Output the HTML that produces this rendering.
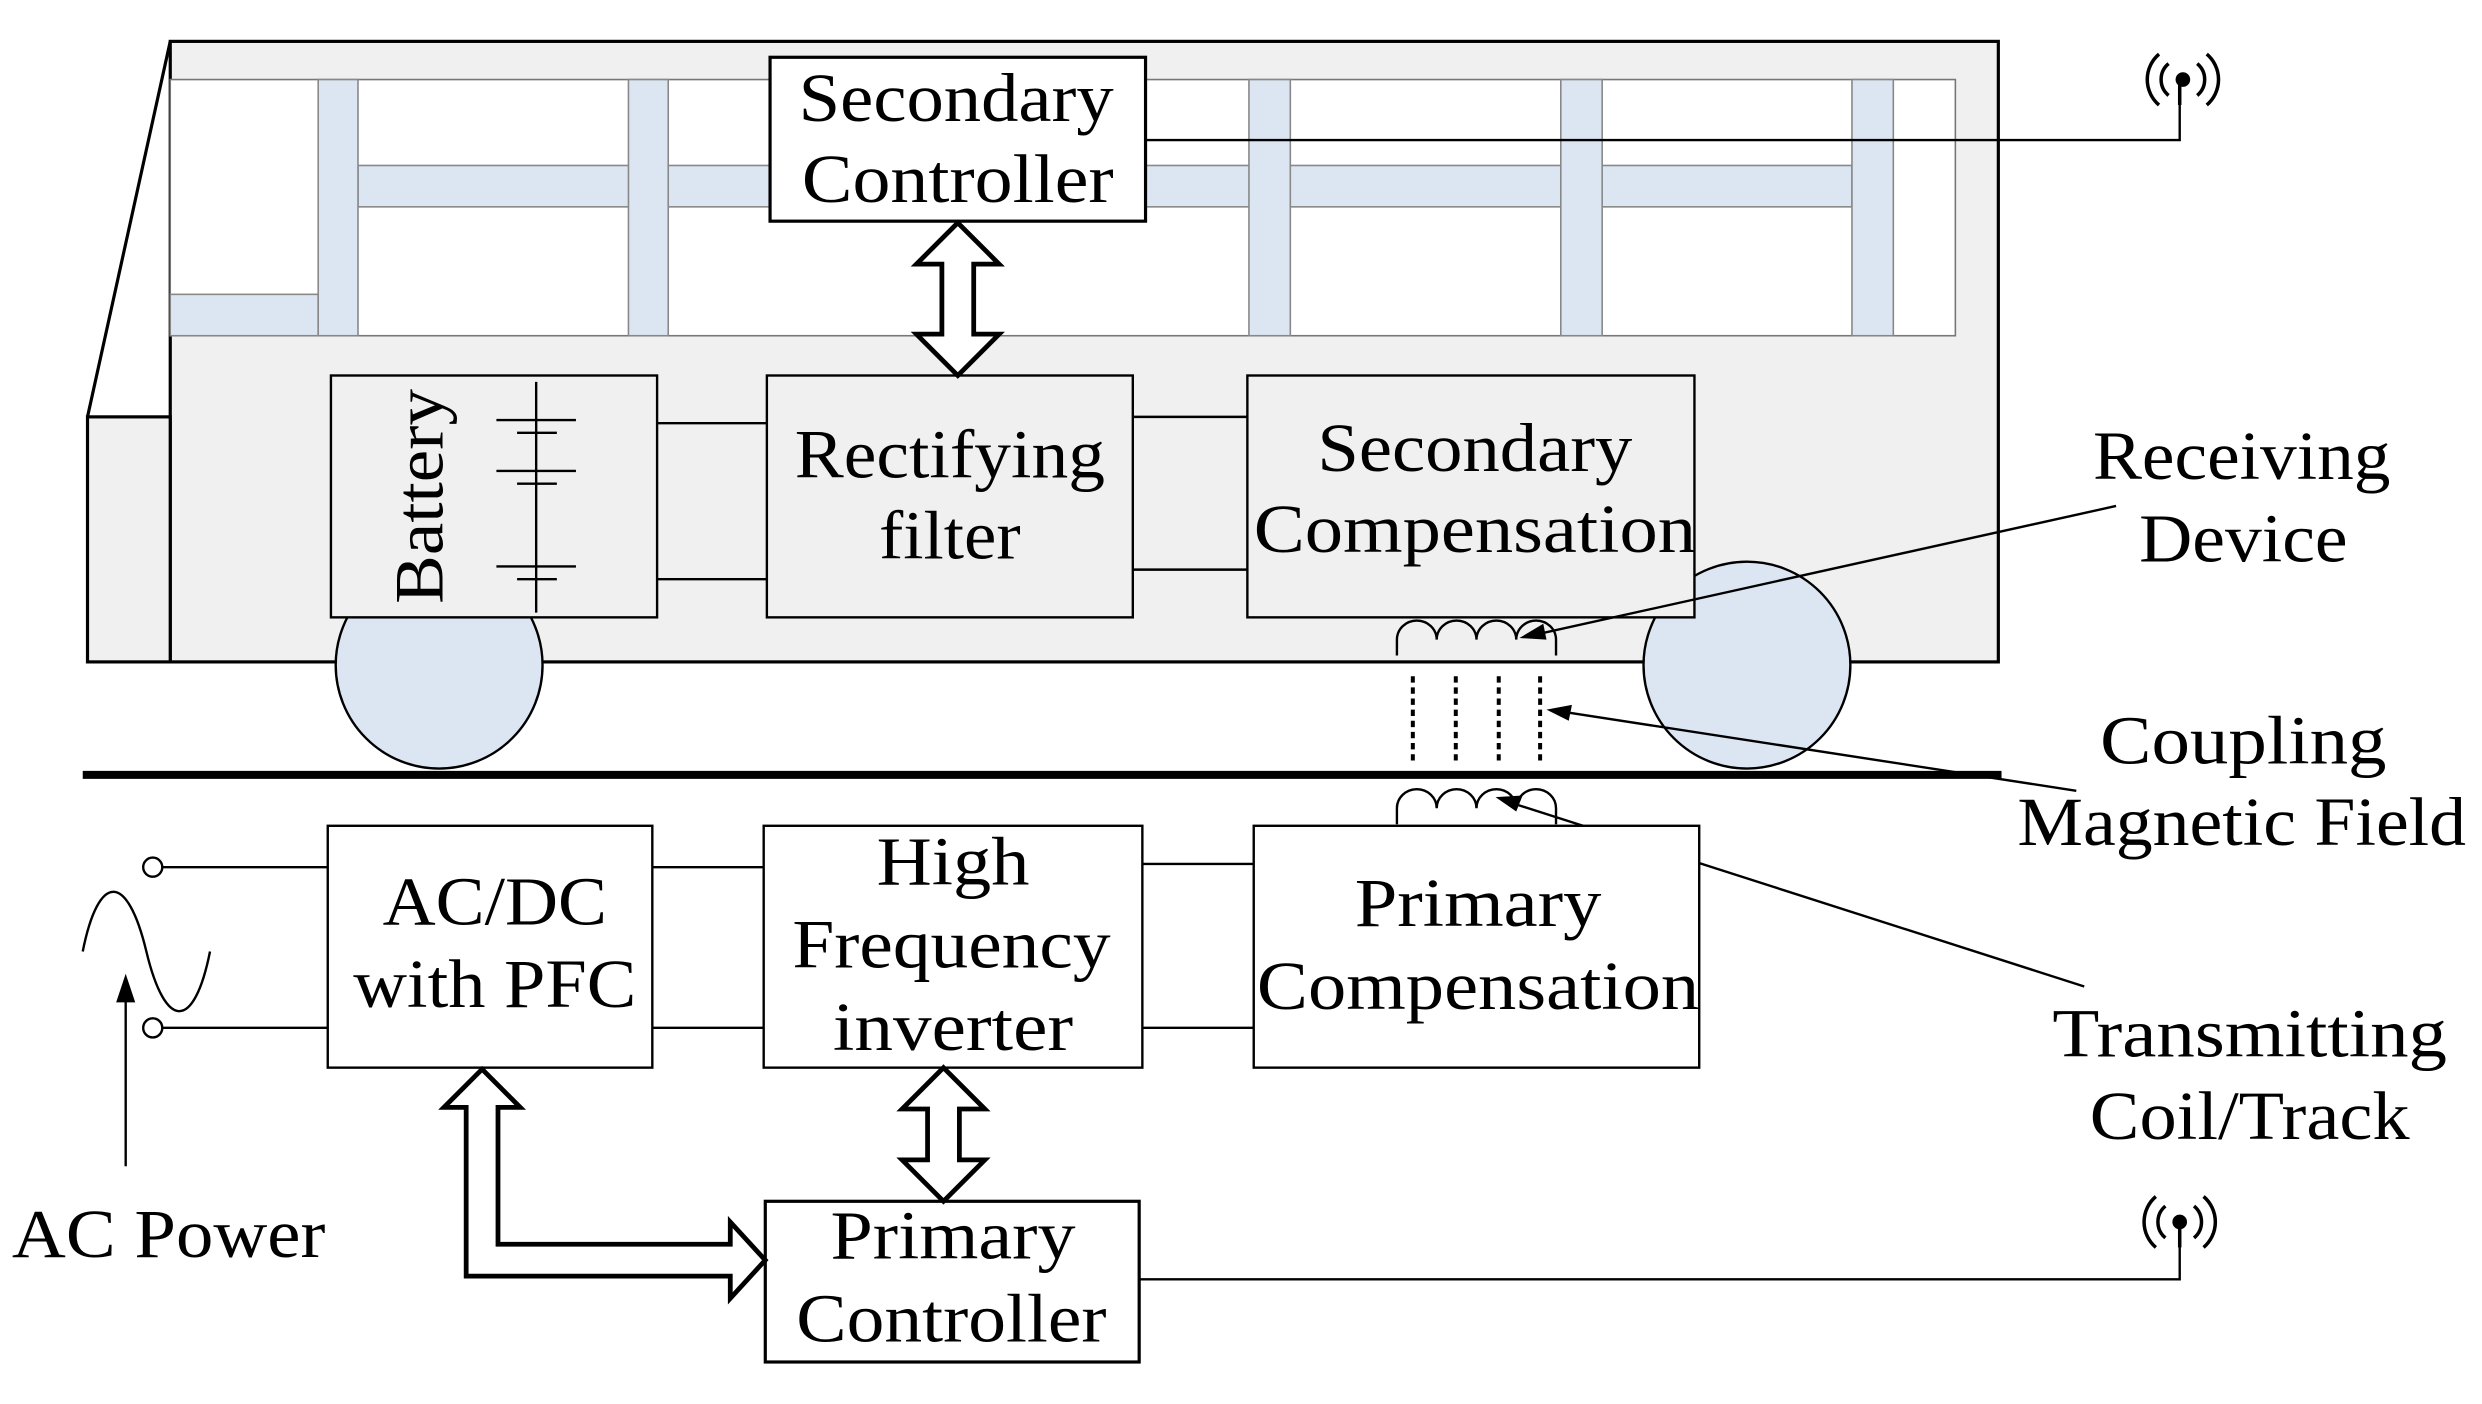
<!DOCTYPE html>
<html><head><style>html,body{margin:0;padding:0;background:#fff;}svg{display:block}</style></head><body>
<svg width="2482" height="1404" viewBox="0 0 1560 882.4" preserveAspectRatio="none" xmlns="http://www.w3.org/2000/svg" font-family="Liberation Serif, serif" font-size="43">
<rect x="107" y="26" width="1149" height="390" fill="#f0f0f0" stroke="#000" stroke-width="2"/>
<line x1="107" y1="26" x2="55" y2="262" stroke="#000" stroke-width="2"/>
<rect x="55" y="262" width="52" height="154" fill="#f0f0f0" stroke="#000" stroke-width="2"/>
<rect x="107" y="50" width="1122" height="161" fill="#fff" stroke="#777" stroke-width="1"/>
<g fill="#dce6f2" stroke="#888" stroke-width="1">
<rect x="225" y="104" width="939" height="26"/>
<rect x="107" y="185" width="93" height="26"/>
<rect x="200" y="50" width="25" height="161"/>
<rect x="395" y="50" width="25" height="161"/>
<rect x="785" y="50" width="26" height="161"/>
<rect x="981" y="50" width="26" height="161"/>
<rect x="1164" y="50" width="26" height="161"/>
</g>
<circle cx="276" cy="418" r="65" fill="#dce6f2" stroke="#000" stroke-width="1.5"/>
<circle cx="1098" cy="418" r="65" fill="#dce6f2" stroke="#000" stroke-width="1.5"/>
<g fill="#f0f0f0" stroke="#000" stroke-width="1.5">
<rect x="208" y="236" width="205" height="152"/>
<rect x="482" y="236" width="230" height="152"/>
<rect x="784" y="236" width="281" height="152"/>
</g>
<rect x="484" y="36" width="236" height="103" fill="#fff" stroke="#000" stroke-width="2"/>
<g stroke="#000" stroke-width="1.5" fill="none">
<line x1="413" y1="266" x2="482" y2="266"/><line x1="413" y1="364" x2="482" y2="364"/>
<line x1="712" y1="262" x2="784" y2="262"/><line x1="712" y1="358" x2="784" y2="358"/>
<polyline points="720,88 1370,88 1370,64"/>
<polyline points="716,804 1370,804 1370,782"/>
<line x1="337" y1="240" x2="337" y2="385"/>
<line x1="312" y1="264" x2="362" y2="264"/><line x1="325" y1="272" x2="350" y2="272"/>
<line x1="312" y1="296" x2="362" y2="296"/><line x1="325" y1="304" x2="350" y2="304"/>
<line x1="312" y1="356" x2="362" y2="356"/><line x1="325" y1="364" x2="350" y2="364"/>
<path d="M878,412 v-10 a12.5,12 0 0 1 25,0 a12.5,12 0 0 1 25,0 a12.5,12 0 0 1 25,0 a12.5,12 0 0 1 25,0 v10"/>
<path d="M878,518 v-10 a12.5,12 0 0 1 25,0 a12.5,12 0 0 1 25,0 a12.5,12 0 0 1 25,0 a12.5,12 0 0 1 25,0 v10"/>
<g stroke-dasharray="4,3" stroke-width="2.5"><line x1="888" y1="425" x2="888" y2="478"/><line x1="915" y1="425" x2="915" y2="478"/><line x1="942" y1="425" x2="942" y2="478"/><line x1="968" y1="425" x2="968" y2="478"/></g>
<line x1="102" y1="545" x2="206" y2="545"/><line x1="102" y1="646" x2="206" y2="646"/>
<line x1="410" y1="545" x2="480" y2="545"/><line x1="410" y1="646" x2="480" y2="646"/>
<line x1="718" y1="543" x2="788" y2="543"/><line x1="718" y1="646" x2="788" y2="646"/>
<circle cx="96" cy="545" r="6" fill="#fff"/><circle cx="96" cy="646" r="6" fill="#fff"/>
<path d="M52,598 C62,548 80,548 92,598 C104,648 122,648 132,598"/>
<line x1="79" y1="733" x2="79" y2="625"/>
<line x1="1330" y1="318" x2="960" y2="400"/>
<line x1="1305" y1="497" x2="980" y2="447"/>
<line x1="1310" y1="620" x2="945" y2="503"/>
</g>
<g fill="#000">
<polygon points="79,612 73,630 85,630"/>
<polygon points="955,401 970,392 972,402"/>
<polygon points="972,446 988,443 986,453"/>
<polygon points="940,501 957,500 953,510"/>
</g>
<line x1="52" y1="487" x2="1258" y2="487" stroke="#000" stroke-width="5"/>
<g fill="#fff" stroke="#000" stroke-width="1.5">
<rect x="206" y="519" width="204" height="152"/>
<rect x="480" y="519" width="238" height="152"/>
<rect x="788" y="519" width="280" height="152"/>
<rect x="481" y="755" width="235" height="101" stroke-width="2"/>
</g>
<g fill="#fff" stroke="#000" stroke-width="3">
<polygon points="602,140 628,166 612,166 612,210 628,210 602,236 576,210 592,210 592,166 576,166"/>
<polygon points="593,671 619,697 603,697 603,729 619,729 593,755 567,729 583,729 583,697 567,697"/>
<polygon points="303,672 327,696 313,696 313,782 459,782 459,768 481,792 459,816 459,802 293,802 293,696 279,696"/>
</g>
<g fill="none" stroke="#000" stroke-width="2.2">
<circle cx="1372" cy="50" r="3.5" fill="#000"/>
<path d="M1363,40 a13,13 0 0 0 0,20 M1381,40 a13,13 0 0 1 0,20 M1357,34 a21,21 0 0 0 0,32 M1387,34 a21,21 0 0 1 0,32"/>
<line x1="1370" y1="53" x2="1370" y2="66"/>
<circle cx="1370" cy="768" r="3.5" fill="#000"/>
<path d="M1361,758 a13,13 0 0 0 0,20 M1379,758 a13,13 0 0 1 0,20 M1355,752 a21,21 0 0 0 0,32 M1385,752 a21,21 0 0 1 0,32"/>
<line x1="1370" y1="771" x2="1370" y2="784"/>
</g>
<g text-anchor="middle" fill="#000" lengthAdjust="spacingAndGlyphs">
<text x="601" y="76" textLength="198" lengthAdjust="spacingAndGlyphs">Secondary</text><text x="602" y="127" textLength="196" lengthAdjust="spacingAndGlyphs">Controller</text>
<text x="597" y="300" textLength="195" lengthAdjust="spacingAndGlyphs">Rectifying</text><text x="597" y="351" textLength="89" lengthAdjust="spacingAndGlyphs">filter</text>
<text x="927" y="296" textLength="198" lengthAdjust="spacingAndGlyphs">Secondary</text><text x="927" y="347" textLength="278" lengthAdjust="spacingAndGlyphs">Compensation</text>
<text x="311" y="581" textLength="141" lengthAdjust="spacingAndGlyphs">AC/DC</text><text x="311" y="633" textLength="178" lengthAdjust="spacingAndGlyphs">with PFC</text>
<text x="599" y="556" textLength="96" lengthAdjust="spacingAndGlyphs">High</text><text x="598" y="608" textLength="200" lengthAdjust="spacingAndGlyphs">Frequency</text><text x="599" y="660" textLength="151" lengthAdjust="spacingAndGlyphs">inverter</text>
<text x="929" y="582" textLength="155" lengthAdjust="spacingAndGlyphs">Primary</text><text x="929" y="634" textLength="278" lengthAdjust="spacingAndGlyphs">Compensation</text>
<text x="599" y="791" textLength="154" lengthAdjust="spacingAndGlyphs">Primary</text><text x="598" y="843" textLength="195" lengthAdjust="spacingAndGlyphs">Controller</text>
<text x="1409" y="301" textLength="187" lengthAdjust="spacingAndGlyphs">Receiving</text><text x="1410" y="353" textLength="131" lengthAdjust="spacingAndGlyphs">Device</text>
<text x="1410" y="480" textLength="180" lengthAdjust="spacingAndGlyphs">Coupling</text><text x="1409" y="531" textLength="282" lengthAdjust="spacingAndGlyphs">Magnetic Field</text>
<text x="1414" y="664" textLength="248" lengthAdjust="spacingAndGlyphs">Transmitting</text><text x="1414" y="716" textLength="201" lengthAdjust="spacingAndGlyphs">Coil/Track</text>
<text x="106" y="790" textLength="197" lengthAdjust="spacingAndGlyphs">AC Power</text>
<text transform="translate(278,312) rotate(-90)" textLength="135" lengthAdjust="spacingAndGlyphs">Battery</text>
</g>
</svg>
</body></html>
